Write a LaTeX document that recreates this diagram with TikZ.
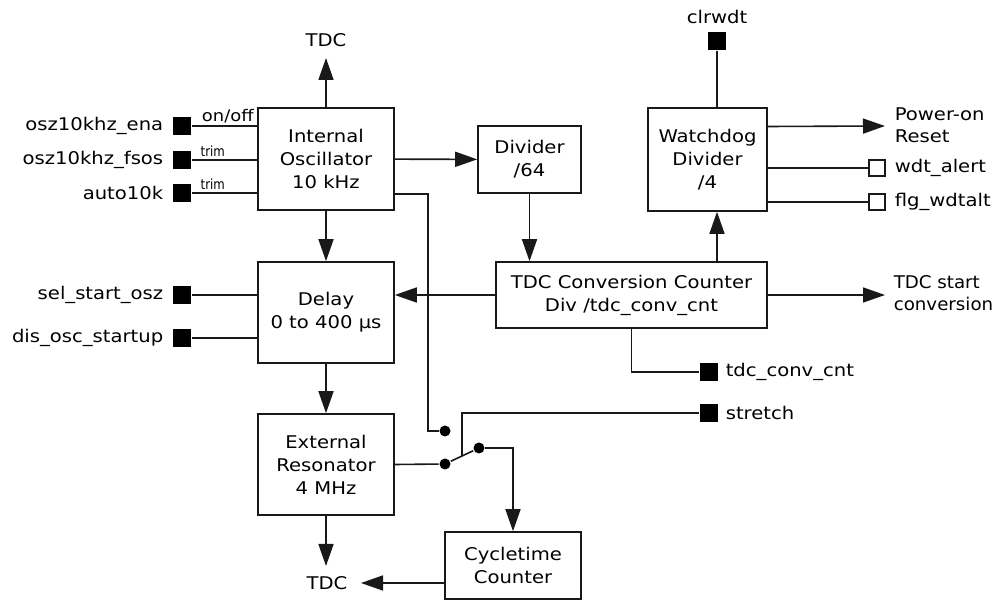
\documentclass[tikz,border=0pt]{standalone}
\usepackage{fontspec}
\setmainfont[FakeStretch=1.12]{DejaVu Sans}
\usepackage{tikz}
\usetikzlibrary{arrows.meta}
\usetikzlibrary{positioning}
\tikzset{arr/.style = {-{Triangle[length=22pt,width=15pt]}},
         blk/.style = {draw, line width=1.6pt, align=center, inner sep=0pt,
                       font=\fontsize{17.5}{23}\selectfont},
         pinsq/.style = {fill=black, minimum size=18pt, inner sep=0pt},
         opensq/.style = {draw, fill=white, line width=1.3pt, minimum size=16pt, inner sep=0pt},
         swdot/.style = {circle, fill=black, minimum size=11pt, inner sep=0pt},
         sig/.style = {font=\fontsize{17.5}{22}\selectfont, inner sep=0pt},
         tiny/.style = {font=\fontsize{14}{14}\selectfont, inner sep=0pt, xscale=0.75}}
\definecolor{wire}{rgb}{0.1, 0.1, 0.1}

\begin{document}
\begin{tikzpicture}[x=1pt, y=-1pt, line width=1.6pt, draw=wire]
    \useasboundingbox (0, 0) rectangle (997, 601);

    % blocks
    \node [blk, minimum width=136pt, minimum height=102pt] (osc) at (326, 159) {Internal\\Oscillator\\10 kHz};
    \node [blk, minimum width=103pt, minimum height=67pt] (div) at (529.5, 159.5) {Divider\\/64};
    \node [blk, minimum width=119pt, minimum height=103pt] (wdg) at (707.5, 159.5) {Watchdog\\Divider\\/4};
    \node [blk, minimum width=271pt, minimum height=66pt] (tdcc) at (631.5, 295) {TDC Conversion Counter\\Div /tdc\_conv\_cnt};
    \node [blk, minimum width=136pt, minimum height=101pt] (delay) at (326, 312.5) {Delay\\0 to 400 µs};
    \node [blk, minimum width=136pt, minimum height=101pt] (res) at (326, 464.5) {External\\Resonator\\4 MHz};
    \node [blk, minimum width=136pt, minimum height=67pt] (cyc) at (513, 565.5) {Cycletime\\Counter};

    % pins on the left
    \node [pinsq] (ena) at (182, 126) {};
    \node [pinsq] (fsos) at (182, 160) {};
    \node [pinsq] (auto) at (182, 193) {};
    \node [pinsq] (sel) at (182, 295) {};
    \node [pinsq] (dis) at (182, 338) {};
    \node [sig, anchor=east] at (164, 126) {osz10khz\_ena};
    \node [sig, anchor=east] at (164, 160) {osz10khz\_fsos};
    \node [sig, anchor=east] at (164, 193) {auto10k};
    \node [sig, anchor=east] at (164, 295) {sel\_start\_osz};
    \node [sig, anchor=east] at (164, 338) {dis\_osc\_startup};

    \draw (ena) -- (ena -| osc.west) node [pos=0.55, above=2pt, sig, font=\fontsize{16}{16}\selectfont] {on/off};
    \draw (fsos) -- (fsos -| osc.west) node [pos=0.32, above=3pt, tiny] {trim};
    \draw (auto) -- (auto -| osc.west) node [pos=0.32, above=3pt, tiny] {trim};
    \draw (sel) -- (sel -| delay.west);
    \draw (dis) -- (dis -| delay.west);

    % pins on the right
    \node [pinsq] (clr) at (717, 41) {};
    \node [sig] at (717, 17) {clrwdt};
    \node [pinsq] (cnt) at (709, 372) {};
    \node [sig, anchor=west] at (725, 372) {tdc\_conv\_cnt};
    \node [pinsq] (stretch) at (709, 413) {};
    \node [sig, anchor=west] at (725, 413) {stretch};
    \node [opensq] (alert) at (877, 168) {};
    \node [sig, anchor=west] at (894, 168) {wdt\_alert};
    \node [opensq] (flg) at (877, 202) {};
    \node [sig, anchor=west] at (894, 202) {flg\_wdtalt};
    \node [sig, anchor=west, align=left] (por) at (894, 125) {Power-on\\Reset};
    \node [sig, anchor=west, align=left, xscale=0.93] (start) at (893, 293) {TDC start\\conversion};

    % TDC outputs
    \node [sig] (tdcTop) at (326, 40) {TDC};
    \node [sig] (tdcBot) at (327, 583) {TDC};
    \coordinate (tdcTopTip) at (326, 58);
    \coordinate (tdcBotTip) at (326, 566);
    \coordinate (tdcLeftTip) at (361, 583);

    % switch
    \node [swdot] (swA) at (445, 431) {};
    \node [swdot] (swB) at (445, 464) {};
    \node [swdot] (swC) at (479, 448) {};
    \coordinate (swMid) at (462, 456);
    \coordinate (wx) at (717, 0);

    % connectors
    \draw [arr] (osc.north) -- (tdcTopTip);
    \draw [arr] (osc) -- (div);
    \draw [arr] (osc) -- (delay);
    \draw [arr] (div) -- (div |- tdcc.north);
    \draw [arr] (tdcc.west) -- (tdcc.west -| delay.east);
    \draw [arr] (tdcc.north -| wx) -- (wdg.south -| wx);
    \draw (clr) -- (wdg.north -| clr);
    \draw [arr] (tdcc.east) -- (885, 295);
    \draw [arr] ([yshift=33pt]wdg.east) -- (885, 126);
    \draw ([yshift=-8.5pt]wdg.east) -- (alert);
    \draw ([yshift=-42.5pt]wdg.east) -- (flg);
    \draw (tdcc.south) |- (cnt);
    \draw [arr] (delay) -- (res);
    \draw [arr] (res.south) -- (tdcBotTip);
    \draw [arr] ([yshift=-17.5pt]cyc.west) -- (tdcLeftTip);
    \draw ([yshift=-35pt]osc.east) -| (428, 431) -- (swA);
    \draw (res.east) -- (swB);
    \draw (swB) -- (swC);
    \draw (swMid) |- (stretch);
    \draw [arr] (swC) -| (cyc.north);
  \end{tikzpicture}
\end{document}
